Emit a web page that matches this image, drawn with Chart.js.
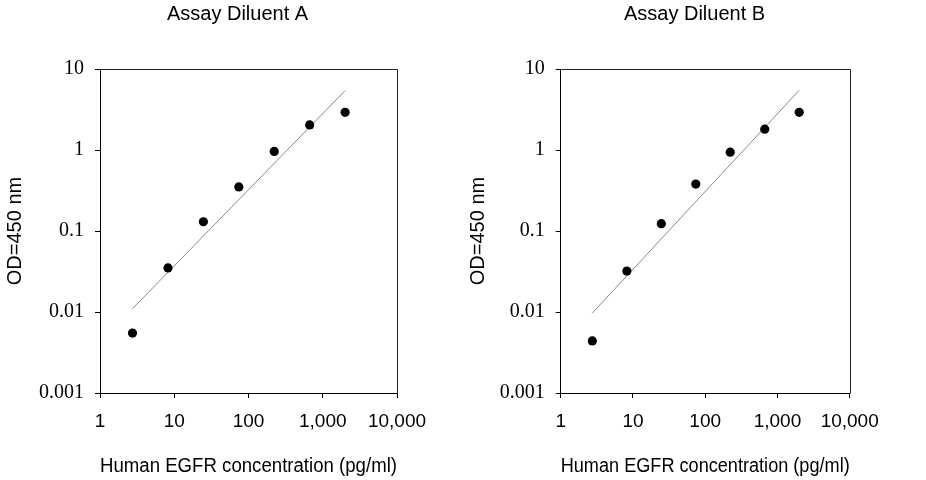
<!DOCTYPE html>
<html>
<head>
<meta charset="utf-8">
<title>Human EGFR ELISA standard curves</title>
<script src="https://cdn.jsdelivr.net/npm/chart.js@4.4.1/dist/chart.umd.min.js"></script>
<style>
    body { margin: 0; background: #fff; overflow: hidden; width: 926px; height: 480px; position: relative; }
    .panel { position: absolute; top: 0; }
    #panel-a { left: 0; }
    #panel-b { left: 463px; }
</style>
</head>
<body>
<div class="panel" id="panel-a"><canvas id="grafico-a" width="475" height="480"></canvas></div>
<div class="panel" id="panel-b"><canvas id="grafico-b" width="463" height="480"></canvas></div>
<script>
// Datos
const concentraciones = [2.74, 8.23, 24.7, 74.1, 222, 667, 2000];
const odDiluyenteA = [0.0055, 0.035, 0.13, 0.35, 0.96, 2.04, 2.92];
const odDiluyenteB = [0.0044, 0.032, 0.123, 0.38, 0.94, 1.81, 2.92];

// Recta de ajuste (extremos)
const rangoAjuste = [2.74, 2000];
const ajusteA = [0.011, 5.4];
const ajusteB = [0.0097, 5.45];

const ticksX = [1, 10, 100, 1000, 10000];
const etiquetasX = ['1', '10', '100', '1,000', '10,000'];
const ticksY = [0.001, 0.01, 0.1, 1, 10];
const etiquetasY = ['0.001', '0.01', '0.1', '1', '10'];

Chart.defaults.font.family = '"Liberation Sans", Arial, sans-serif';
Chart.defaults.color = '#000';

// Marco superior y derecho del área de datos
const marco = {
    id: 'marco',
    afterDraw(chart) {
        const { ctx, chartArea: a } = chart;
        ctx.save();
        ctx.strokeStyle = '#222';
        ctx.lineWidth = 1;
        ctx.beginPath();
        ctx.moveTo(Math.round(a.left) + 0.5, Math.round(a.top) + 0.5);
        ctx.lineTo(Math.round(a.right) + 0.5, Math.round(a.top) + 0.5);
        ctx.lineTo(Math.round(a.right) + 0.5, Math.round(a.bottom) + 0.5);
        ctx.stroke();
        ctx.restore();
    }
};

// anchoEjeY: hasta el borde izquierdo del área; hueco: eje vacío a la derecha
function crearGrafico(id, titulo, valores, ajuste, anchoEjeY, hueco) {
    const puntos = concentraciones.map((x, i) => ({ x: x, y: valores[i] }));
    const recta = rangoAjuste.map((x, i) => ({ x: x, y: ajuste[i] }));

    return new Chart(document.getElementById(id), {
        type: 'scatter',
        data: {
            datasets: [{
                data: puntos,
                backgroundColor: '#000',
                borderColor: '#000',
                borderWidth: 0,
                pointRadius: 4.6
            }, {
                data: recta,
                showLine: true,
                borderColor: '#8a8a8a',
                borderWidth: 1,
                pointRadius: 0
            }]
        },
        options: {
            responsive: false,
            animation: false,
            layout: { padding: 0 },
            plugins: {
                legend: { display: false },
                tooltip: { enabled: false },
                title: {
                    display: true,
                    text: titulo,
                    color: '#000',
                    font: { size: 20, weight: 'normal' },
                    padding: { top: 2, bottom: 43 }
                }
            },
            scales: {
                x: {
                    type: 'logarithmic',
                    min: 1,
                    max: 10000,
                    afterBuildTicks: s => { s.ticks = ticksX.map(v => ({ value: v })); },
                    afterFit: s => { s.height = 87; },
                    ticks: {
                        autoSkip: false,
                        maxRotation: 0,
                        padding: 12,
                        font: { size: 19 },
                        callback: (v, i) => etiquetasX[i]
                    },
                    grid: { drawOnChartArea: false, drawTicks: true, tickLength: 5, color: '#000' },
                    border: { color: '#000', width: 1 },
                    title: {
                        display: true,
                        text: 'Human EGFR concentration (pg/ml)',
                        font: { size: 20 },
                        padding: { top: 0, bottom: 2 }
                    }
                },
                y: {
                    type: 'logarithmic',
                    min: 0.001,
                    max: 10,
                    afterBuildTicks: s => { s.ticks = ticksY.map(v => ({ value: v })); },
                    afterFit: s => { s.width = anchoEjeY; },
                    ticks: {
                        autoSkip: false,
                        padding: 11,
                        font: { size: 20, family: '"Liberation Serif", "Times New Roman", serif' },
                        callback: (v, i) => etiquetasY[i]
                    },
                    grid: { drawOnChartArea: false, drawTicks: true, tickLength: 5, color: '#000' },
                    border: { color: '#000', width: 1 },
                    title: {
                        display: true,
                        text: 'OD=450 nm',
                        font: { size: 20 },
                        padding: { top: 3.5, bottom: 0 }
                    }
                },
                // eje vacío: deja el hueco derecho sin mover el título
                hueco: {
                    type: 'linear',
                    position: 'right',
                    afterFit: s => { s.width = hueco; },
                    ticks: { display: false },
                    grid: { display: false },
                    border: { display: false }
                }
            }
        },
        plugins: [marco]
    });
}

crearGrafico('grafico-a', 'Assay Diluent A', odDiluyenteA, ajusteA, 100, 78);
crearGrafico('grafico-b', 'Assay Diluent B', odDiluyenteB, ajusteB, 97.7, 76.3);
</script>
</body>
</html>
